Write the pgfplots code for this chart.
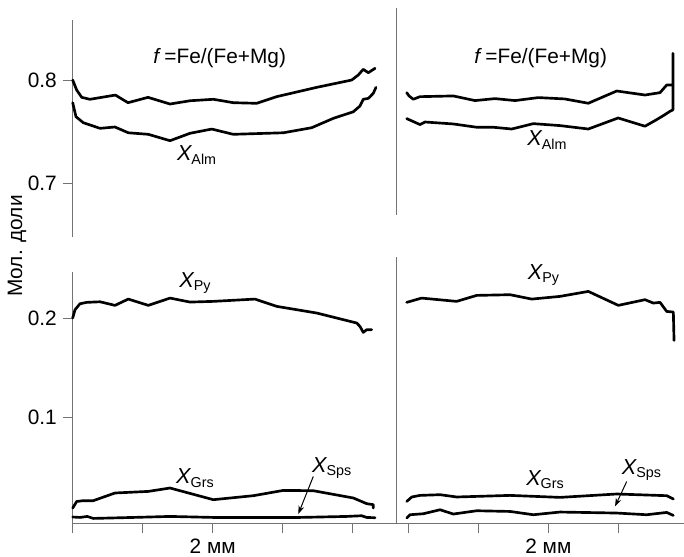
\documentclass[border=0pt]{standalone}
\usepackage{fontspec}
\setmainfont{Liberation Sans}
\usepackage{pgfplots}
\pgfplotsset{compat=1.18}
\usetikzlibrary{arrows.meta}

% italic X with a small upright subscript
\newcommand{\X}[1]{{\fontsize{13}{14}\selectfont\itshape X}\raisebox{-2pt}{\fontsize{8.6}{9}\selectfont #1}}

\pgfplotsset{
  every axis/.append style={
    x=42pt,
    anchor=south west,
    clip=false,
    axis line style={black!55, line width=0.6pt},
    tick style={black!55, line width=0.6pt},
    tick align=outside,
    major tick length=6pt,
    /pgf/number format/assume math mode=true,
    ticklabel style={font=\fontsize{12.5}{14}\selectfont},
  },
  curve/.style={black, line width=1.6pt, line join=round, line cap=round, no markers},
}
\tikzset{pointer/.style={black, line width=0.6pt, -{Stealth[length=5pt,width=3.5pt]}}}

\begin{document}
\begin{tikzpicture}[font=\fontsize{12.5}{14}\selectfont]
\useasboundingbox (0,0) rectangle ({684*0.6pt},{-556*0.6pt});

% ---------- top left ----------
\begin{axis}[at={({72.7*0.6pt},{-237*0.6pt})}, y=618pt,
  xmin=0, xmax=4.5, ymin=0.6476, ymax=0.858,
  axis x line=none, axis y line*=left,
  ytick={0.7,0.8}, yticklabels={0.7,0.8}]
\addplot[curve] coordinates {
  (0,0.8) (0.057,0.7903) (0.129,0.7832) (0.247,0.7813) (0.61,0.7854)
  (0.79,0.778) (1.076,0.7832) (1.39,0.7767) (1.676,0.7799) (2.01,0.7813)
  (2.296,0.778) (2.628,0.7774) (2.91,0.7838) (3.486,0.7929) (3.986,0.8)
  (4.08,0.8049) (4.15,0.8104) (4.224,0.8071) (4.319,0.8114)};
\addplot[curve] coordinates {
  (0,0.778) (0.047,0.7644) (0.151,0.7586) (0.39,0.7531) (0.604,0.7544)
  (0.794,0.7488) (1.08,0.7473) (1.39,0.7411) (1.676,0.7483) (1.986,0.7524)
  (2.294,0.7473) (3.009,0.7488) (3.414,0.7537) (3.723,0.7628) (4.009,0.7692)
  (4.104,0.7748) (4.151,0.7813) (4.223,0.7822) (4.294,0.7871) (4.333,0.7929)};
\node at (axis cs:2.1,0.8214) {\textit{f}\,=Fe/(Fe+Mg)};
\node at (axis cs:1.77,0.7272) {\X{Alm}};
\end{axis}

% ---------- top right ----------
\begin{axis}[at={({396*0.6pt},{-215*0.6pt})}, y=618pt,
  xmin=-0.176, xmax=3.94, ymin=0.6689, ymax=0.8699,
  axis x line=none, axis y line*=left, ytick=\empty]
\addplot[curve] coordinates {
  (-0.023,0.7877) (0.01,0.7845) (0.071,0.7813) (0.167,0.7838) (0.643,0.7845)
  (0.952,0.78) (1.238,0.7819) (1.524,0.78) (1.857,0.7829) (2.233,0.7816)
  (2.571,0.7774) (2.977,0.7893) (3.381,0.7854) (3.596,0.7877) (3.691,0.7951)
  (3.78,0.7951) (3.78,0.8259)};
\addplot[curve] coordinates {
  (-0.023,0.7625) (0.167,0.7567) (0.238,0.7592) (0.643,0.7573) (0.977,0.7541)
  (1.214,0.7541) (1.477,0.7524) (1.786,0.7576) (2.167,0.7557) (2.571,0.7524)
  (2.997,0.7631) (3.381,0.7551) (3.548,0.7615) (3.667,0.7664) (3.738,0.7696)
  (3.78,0.7709) (3.78,0.7951)};
\node at (axis cs:1.89,0.821) {\textit{f}\,=Fe/(Fe+Mg)};
\node at (axis cs:1.98,0.7417) {\X{Alm}};
\end{axis}

% ---------- bottom left ----------
\begin{axis}[at={({72.7*0.6pt},{-523*0.6pt})}, y=598.2pt,
  xmin=0, xmax=4.62, ymin=-0.0056, ymax=0.2464,
  axis x line*=bottom, axis y line*=left,
  xtick={0,1,2,3,4}, xticklabels={,,2 мм,,},
  ytick={0.1,0.2}, yticklabels={0.1,0.2}]
\addplot[curve] coordinates {
  (0,0.2) (0.033,0.2083) (0.104,0.2143) (0.2,0.2157) (0.39,0.2163)
  (0.604,0.2127) (0.794,0.219) (1.08,0.2127) (1.39,0.22) (1.676,0.216)
  (2.01,0.2167) (2.604,0.219) (2.914,0.2117) (3.486,0.205) (4.057,0.195)
  (4.104,0.1916) (4.151,0.1856) (4.2,0.1883) (4.271,0.1883)};
\addplot[curve] coordinates {
  (0,0.0094) (0.057,0.016) (0.151,0.0168) (0.294,0.0168) (0.604,0.0245)
  (1.08,0.0261) (1.39,0.0295) (2.009,0.0178) (2.581,0.0218) (3.009,0.0271)
  (3.437,0.0268) (4.009,0.0195) (4.2,0.0138) (4.294,0.0128) (4.294,0.0094)};
\addplot[curve] coordinates {
  (0,0.0004) (0.105,0.0) (0.209,0.001) (0.294,-0.001) (0.867,0.0)
  (1.39,0.001) (2.009,0.0) (3.248,0.0) (3.914,0.001) (4.128,0.0017)
  (4.2,0.0) (4.319,-0.0003)};
\node at (axis cs:1.747,0.2351) {\X{Py}};
\node at (axis cs:1.747,0.0395) {\X{Grs}};
\node at (axis cs:3.7,0.0495) {\X{Sps}};
\draw[pointer] (axis cs:3.437,0.0411) -- (axis cs:3.223,0.0034);
\end{axis}

% ---------- bottom right ----------
\begin{axis}[at={({396*0.6pt},{-523*0.6pt})}, y=598.2pt,
  xmin=-0.176, xmax=3.94, ymin=-0.0056, ymax=0.2615,
  axis x line*=bottom, axis y line*=left,
  xtick={0,1,2,3}, xticklabels={,,2 мм,}, ytick=\empty]
\addplot[curve] coordinates {
  (-0.023,0.2157) (0.19,0.22) (0.69,0.2167) (0.977,0.2227) (1.453,0.2234)
  (1.763,0.219) (2.167,0.2217) (2.571,0.2267) (3.0,0.2127) (3.381,0.2184)
  (3.5,0.215) (3.596,0.2157) (3.691,0.2066) (3.786,0.206) (3.796,0.1775)};
\addplot[curve] coordinates {
  (-0.023,0.016) (0.049,0.0205) (0.167,0.0221) (0.453,0.0228) (0.69,0.0205)
  (1.453,0.0221) (2.167,0.0201) (2.977,0.0235) (3.691,0.0218) (3.786,0.0185)};
\addplot[curve] coordinates {
  (-0.023,-0.0006) (0.024,0.0027) (0.214,0.0037) (0.453,0.0077) (0.643,0.0034)
  (0.977,0.0067) (1.453,0.006) (1.786,0.0027) (2.167,0.0054) (2.977,0.0044)
  (3.405,0.0027) (3.691,0.005) (3.786,0.002)};
\node at (axis cs:1.93,0.2434) {\X{Py}};
\node at (axis cs:1.953,0.0378) {\X{Grs}};
\node at (axis cs:3.33,0.0478) {\X{Sps}};
\draw[pointer] (axis cs:3.12,0.036) -- (axis cs:2.953,0.011);
\end{axis}

\node[rotate=90] at ({17*0.6pt},{-246*0.6pt}) {Мол. доли};
\end{tikzpicture}
\end{document}
